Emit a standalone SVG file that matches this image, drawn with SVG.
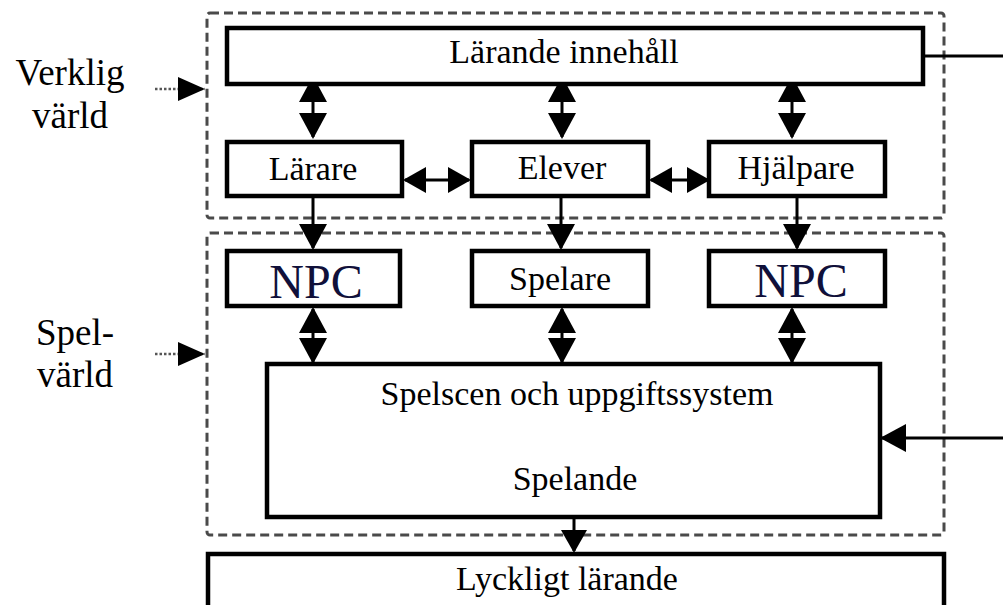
<svg xmlns="http://www.w3.org/2000/svg" width="1003" height="605" viewBox="0 0 1003 605">
  <style>
    .box { fill: #ffffff; stroke: #000000; stroke-width: 4.5; }
    .zone { fill: none; stroke: #4a4a4a; stroke-width: 3; stroke-dasharray: 9 5; }
    .lbl { font-family: "Liberation Serif", "Times New Roman", serif; font-size: 34px; fill: #000000; text-anchor: middle; }
    .side { font-family: "Liberation Serif", "Times New Roman", serif; font-size: 37px; fill: #000000; text-anchor: middle; }
    .npc { font-family: "Liberation Serif", "Times New Roman", serif; font-size: 48px; fill: #10103a; text-anchor: middle; }
    .link { stroke: #000000; stroke-width: 3; fill: none; }
    .dots { stroke: #555555; stroke-width: 2.5; stroke-dasharray: 2.5 2; fill: none; }
  </style>
  <defs>
    <marker id="ah" markerUnits="userSpaceOnUse" markerWidth="28" markerHeight="28" refX="24" refY="14" orient="auto-start-reverse">
      <path d="M0,0 L26,14 L0,28 Z" fill="#000000"/>
    </marker>
    <marker id="ahs" markerUnits="userSpaceOnUse" markerWidth="24" markerHeight="26" refX="21" refY="13" orient="auto-start-reverse">
      <path d="M0,0 L23,13 L0,26 Z" fill="#000000"/>
    </marker>
    <marker id="dh" markerUnits="userSpaceOnUse" markerWidth="28" markerHeight="24" refX="27" refY="12" orient="auto">
      <path d="M0,0 L27,12 L0,24 Z" fill="#000000"/>
    </marker>
  </defs>

  <rect width="1003" height="605" fill="#ffffff"/>

  <!-- world zones -->
  <g id="zone-real">
    <rect class="zone" x="207" y="13" width="737" height="205" rx="3"/>
    <text class="side" x="70" y="85">Verklig</text>
    <text class="side" x="70" y="128">värld</text>
  </g>
  <g id="zone-game">
    <rect class="zone" x="207" y="233" width="737" height="302" rx="3"/>
    <text class="side" x="75" y="345">Spel-</text>
    <text class="side" x="75" y="387">värld</text>
  </g>

  <!-- connectors -->
  <g id="connectors">
    <!-- zone pointers -->
    <line class="dots" x1="155" y1="89" x2="205" y2="89" marker-end="url(#dh)"/>
    <line class="dots" x1="155" y1="354" x2="205" y2="354" marker-end="url(#dh)"/>

    <!-- content <-> roles -->
    <line class="link" x1="313" y1="78" x2="313" y2="137" marker-start="url(#ah)" marker-end="url(#ah)"/>
    <line class="link" x1="562" y1="78" x2="562" y2="137" marker-start="url(#ah)" marker-end="url(#ah)"/>
    <line class="link" x1="792" y1="78" x2="792" y2="137" marker-start="url(#ah)" marker-end="url(#ah)"/>

    <!-- role <-> role -->
    <line class="link" x1="405" y1="180" x2="469" y2="180" marker-start="url(#ahs)" marker-end="url(#ahs)"/>
    <line class="link" x1="651" y1="180" x2="708" y2="180" marker-start="url(#ahs)" marker-end="url(#ahs)"/>

    <!-- roles -> game characters -->
    <line class="link" x1="313" y1="196" x2="313" y2="248" marker-end="url(#ah)"/>
    <line class="link" x1="561" y1="196" x2="561" y2="248" marker-end="url(#ah)"/>
    <line class="link" x1="797" y1="196" x2="797" y2="248" marker-end="url(#ah)"/>

    <!-- characters <-> scene -->
    <line class="link" x1="313" y1="309" x2="313" y2="362" marker-start="url(#ah)" marker-end="url(#ah)"/>
    <line class="link" x1="562" y1="309" x2="562" y2="362" marker-start="url(#ah)" marker-end="url(#ah)"/>
    <line class="link" x1="792" y1="309" x2="792" y2="362" marker-start="url(#ah)" marker-end="url(#ah)"/>

    <!-- scene -> outcome -->
    <line class="link" x1="574" y1="517" x2="574" y2="551" marker-end="url(#ahs)"/>

    <!-- feedback loop on the right -->
    <line class="link" x1="923" y1="56" x2="1003" y2="56"/>
    <line class="link" x1="1003" y1="438" x2="882" y2="438" marker-end="url(#ah)"/>
  </g>

  <!-- nodes -->
  <g id="content">
    <rect class="box" x="227" y="28" width="696" height="56"/>
    <text class="lbl" x="564" y="63">Lärande innehåll</text>
  </g>
  <g id="teacher">
    <rect class="box" x="227" y="142" width="175" height="54"/>
    <text class="lbl" x="313" y="180">Lärare</text>
  </g>
  <g id="students">
    <rect class="box" x="472" y="142" width="176" height="54"/>
    <text class="lbl" x="562" y="179">Elever</text>
  </g>
  <g id="helper">
    <rect class="box" x="709" y="142" width="176" height="54"/>
    <text class="lbl" x="796" y="179">Hjälpare</text>
  </g>
  <g id="npc-left">
    <rect class="box" x="227" y="251" width="173" height="55"/>
    <text class="npc" x="316" y="298">NPC</text>
  </g>
  <g id="player">
    <rect class="box" x="472" y="251" width="176" height="55"/>
    <text class="lbl" x="560" y="290">Spelare</text>
  </g>
  <g id="npc-right">
    <rect class="box" x="709" y="251" width="176" height="55"/>
    <text class="npc" x="801" y="297">NPC</text>
  </g>
  <g id="scene">
    <rect class="box" x="267" y="364" width="613" height="153"/>
    <text class="lbl" x="577" y="405">Spelscen och uppgiftssystem</text>
    <text class="lbl" x="575" y="490">Spelande</text>
  </g>
  <g id="outcome">
    <rect class="box" x="208" y="554" width="736" height="60"/>
    <text class="lbl" x="567" y="590">Lyckligt lärande</text>
  </g>
</svg>
